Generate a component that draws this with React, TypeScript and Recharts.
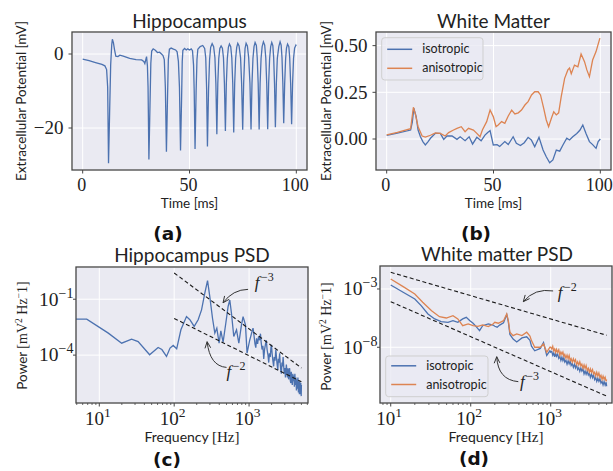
import React from 'react';
import { LineChart, Line, XAxis, YAxis, CartesianGrid } from 'recharts';

// ---------------- data ----------------
// (a) Hippocampus extracellular potential: [time ms, potential mV]
const hippoSamples: [number, number][] = [
  [0, -1.35], [3, -1.8], [6, -2.3], [9, -2.8], [10.4, -3.2], [11.2, -4.2], [11.7, -9], [12.1, -29.5],
  [12.6, -16], [13.1, -3], [13.6, 2.5], [13.9, 4.0], [14.4, 3.0], [14.9, 1.2], [15.5, -0.6], [16.5, -0.7],
  [17.4, -0.3], [19, -0.6], [22, -1.2], [25, -1.5], [27.6, -1.6], [28.6, -2.0], [29.1, -2.6], [29.6, -1.4],
  [29.9, -0.7], [30.3, -3.2], [30.6, -9], [31.0, -28.5], [31.5, -14], [31.9, -2.5], [32.3, 0.8], [33.0, 1.4],
  [34, 1.0], [35, 0.4], [36, 0.5], [36.9, 0.0], [37.6, -0.4], [38.2, -1.5], [38.7, -9], [39.2, -26.4],
  [39.7, -12], [40.1, -1.5], [40.6, 1.3], [41.4, 1.6], [42.5, 1.3], [43.5, 1.1], [44.2, 0.6], [44.8, -2],
  [45.3, -9], [45.8, -26.1], [46.3, -12], [46.6, -2], [46.9, 1.0], [47.7, 1.5], [48.5, 1.1], [49.2, 1.4],
  [50, 1.1], [50.8, 1.4], [51.4, 0.9], [51.9, -3], [52.2, -10], [52.6, -25.7], [53.1, -10], [53.5, -1.5],
  [53.9, 1.3], [55, 2.0], [56.2, 2.3], [57.1, 1.5], [57.6, -1], [58.0, -9], [58.4, -25.0], [58.9, -10],
  [59.4, -1.5], [59.9, 1.8], [60.6, 2.8], [61.3, 2.0], [61.9, -1], [62.35, -8], [62.8, -21.7], [63.25, -8],
  [63.7, -1.2], [64.2, 1.5], [64.8, 2.2], [65.4, 1.6], [65.9, -1], [66.35, -8], [66.8, -20.8], [67.25, -8],
  [67.7, -1.2], [68.2, 1.8], [68.7, 2.7], [69.3, 2.0], [69.8, -1], [70.25, -8], [70.7, -21.2], [71.15, -8],
  [71.6, -1.2], [72.1, 1.8], [72.6, 2.9], [73.2, 2.2], [73.9, -1], [74.4, -8], [74.9, -20.5], [75.35, -8],
  [75.8, -1], [76.0, 1.5], [76.5, 2.9], [77.1, 2.2], [77.7, -1], [78.3, -8], [78.8, -20.4], [79.25, -8],
  [79.7, -1.2], [80.2, 2], [80.7, 3.1], [81.3, 2.3], [81.7, -1], [82.15, -8], [82.6, -20.4], [83.05, -8],
  [83.5, -1.2], [84.0, 2], [84.6, 3.3], [85.2, 2.4], [85.7, -1], [86.15, -8], [86.6, -20.3], [87.05, -8],
  [87.5, -1.2], [88.0, 2], [88.5, 3.1], [89.0, 2.3], [89.4, -1], [89.8, -8], [90.2, -19.8], [90.65, -8],
  [91.1, -1.2], [91.8, 2], [92.4, 3.3], [92.9, 2.4], [93.3, -1], [93.7, -8], [94.1, -18.7], [94.55, -8],
  [95.0, -1.2], [95.4, 1.6], [95.9, 2.7], [96.5, 2.0], [96.9, -1], [97.35, -8], [97.8, -19.0], [98.25, -8],
  [98.7, -1.2], [99.2, 1.6], [99.8, 2.4], [100, 2.2],
];

// (b) White matter potentials: [time ms, potential mV]
const wmSeriesNames = ['isotropic', 'anisotropic'];
const wmIsoSamples: [number, number][] = [
  [0, 0.02], [5, 0.032], [11.2, 0.048], [12.0, 0.09], [12.7, 0.165], [13.8, 0.12], [14.7, 0.048], [15.8, 0.012],
  [17, -0.015], [18.1, -0.032], [19.3, -0.015], [20.5, 0.004], [22.8, 0.03], [25.1, 0.03], [26.7, -0.002],
  [28.2, 0.016], [30.6, 0.016], [32.9, -0.002], [34.4, 0.012], [36.7, -0.009], [38.6, 0.012], [40.2, -0.027],
  [42.2, 0.009], [44.2, -0.01], [46, 0.021], [47.3, 0.035], [48.4, 0.045], [49.9, -0.032], [51.7, -0.03],
  [52.9, -0.04], [55.3, -0.014], [56.9, -0.03], [59.2, 0.012], [60.7, -0.023], [62.6, -0.035], [64.4, -0.02],
  [66.2, 0.009], [67.7, -0.005], [69.3, -0.041], [71.3, 0.009], [73.2, -0.059], [74.7, -0.095], [76.3, -0.127],
  [77.8, -0.112], [79.4, -0.059], [81, -0.065], [82.5, -0.032], [84.3, 0.004], [85.6, -0.005], [87.1, 0.012],
  [89, 0.03], [90.5, 0.048], [91.8, 0.075], [93.3, 0.03], [94.9, -0.014], [96.4, -0.03], [98, -0.05],
  [99, -0.014], [100, 0.0],
];
const wmAnisoSamples: [number, number][] = [
  [0, 0.022], [5, 0.035], [11.2, 0.055], [12.5, 0.17], [13.5, 0.129], [14.7, 0.066], [16.6, 0.016], [18.1, 0.01],
  [20.5, 0.02], [22.8, 0.032], [25.1, 0.03], [27.4, 0.016], [29, 0.034], [31.3, 0.048], [32.9, 0.057],
  [34.9, 0.066], [36.7, 0.039], [38.3, 0.057], [40.6, 0.048], [42.2, 0.03], [43.7, 0.012], [44.8, 0.048],
  [46.8, 0.093], [48.4, 0.155], [49.9, 0.12], [51.2, 0.066], [52.2, 0.075], [53.8, 0.093], [55.3, 0.084],
  [56.9, 0.123], [58.5, 0.155], [60, 0.134], [61.6, 0.14], [63.1, 0.155], [64.7, 0.182], [66.2, 0.2],
  [67.8, 0.236], [69.3, 0.253], [70.9, 0.253], [72, 0.236], [73.5, 0.164], [74.7, 0.102], [75.8, 0.066],
  [77.1, 0.111], [78.2, 0.146], [79.4, 0.129], [80.5, 0.14], [81.7, 0.227], [83.3, 0.325], [84.8, 0.37],
  [85.6, 0.38], [86.4, 0.35], [87.9, 0.396], [89.5, 0.387], [91, 0.455], [92.6, 0.414], [93.7, 0.37],
  [94.9, 0.334], [96.4, 0.423], [98, 0.468], [99.8, 0.54],
];

// (c) Hippocampus PSD: [frequency Hz, log10 power]
const hippoPsd: [number, number][] = [
  [4.9, -2.07], [6.8, -2.07], [13.2, -2.82], [19.9, -3.36], [27, -3.14], [33, -3.27], [47, -3.98], [61, -3.59],
  [68.5, -3.7], [79, -4.07], [88, -3.62], [97, -3.48], [108, -3.66], [123, -2.64], [146, -1.93], [162, -2.1],
  [185, -2.46], [209, -2.1], [232, -1.57], [256, -0.68], [279, 0.0], [299, -0.86], [325, -2.02], [349, -2.82],
  [371, -2.55], [398, -3.36], [420, -2.7], [450, -3.3], [489, -2.29], [525, -1.39], [553, -1.04], [582, -1.75],
  [625, -3.0], [680, -2.64], [730, -3.36], [792, -2.38], [832, -1.93], [895, -2.38], [940, -3.89], [1020, -3.2],
  [1060, -2.95], [1100, -2.7], [1130, -2.55], [1160, -2.9], [1200, -3.4], [1230, -3.6], [1260, -3.1],
  [1300, -3.4], [1340, -3.0], [1380, -3.2], [1420, -2.85], [1450, -3.3], [1490, -3.7], [1530, -3.5],
  [1570, -4.2], [1610, -3.7], [1660, -3.4], [1700, -3.2], [1740, -3.7], [1790, -4.0], [1830, -4.4],
  [1870, -3.9], [1920, -4.1], [1960, -3.6], [1990, -3.45], [2030, -3.9], [2080, -4.3], [2130, -4.6],
  [2170, -4.1], [2220, -4.3], [2280, -3.7], [2320, -4.1], [2370, -4.5], [2420, -4.8], [2460, -4.2],
  [2510, -4.4], [2560, -3.9], [2600, -4.4], [2650, -4.8], [2700, -5.0], [2750, -4.4], [2800, -4.6],
  [2850, -4.1], [2900, -4.6], [2950, -5.0], [3000, -4.7], [3060, -5.2], [3110, -4.8], [3150, -4.5],
  [3200, -4.9], [3260, -5.2], [3310, -4.7], [3370, -5.3], [3420, -4.9], [3480, -4.7], [3540, -5.3],
  [3600, -5.5], [3660, -4.9], [3720, -5.4], [3780, -5.6], [3840, -5.0], [3900, -5.4], [3960, -5.1],
  [4030, -5.7], [4090, -5.0], [4150, -5.6], [4220, -5.2], [4290, -5.9], [4350, -5.3], [4420, -5.8],
  [4490, -5.2], [4560, -6.0], [4630, -5.4], [4700, -6.1], [4770, -5.4], [4840, -6.1], [4910, -5.5],
  [4970, -6.2], [5000, -5.6],
];

// (d) White matter PSD: [frequency Hz, log10 power]
const wmIsoPsd: [number, number][] = [
  [10, -2.66], [14.3, -3.28], [20, -3.86], [24, -4.43], [29.2, -5.14], [35.5, -5.57], [42.7, -5.8], [52, -5.86],
  [60, -5.72], [69, -5.86], [79.4, -5.57], [88, -5.43], [97.7, -5.72], [107, -5.94], [117, -6.23], [129, -6.58],
  [141, -6.15], [166, -6.0], [190, -6.09], [200, -6.2], [214, -6.28], [230, -6.1], [257, -5.9], [282, -5.2],
  [295, -5.8], [309, -6.9], [339, -7.3], [376, -7.55], [437, -7.2], [501, -7.1], [550, -7.4], [575, -7.9],
  [631, -8.3], [741, -8.1], [813, -7.6], [891, -8.7], [977, -8.3], [1000, -8.42], [1030, -8.35], [1060, -8.68],
  [1090, -8.49], [1120, -8.82], [1150, -8.51], [1180, -8.77], [1220, -8.59], [1260, -8.94], [1300, -8.78],
  [1340, -9.13], [1380, -8.84], [1420, -9.14], [1460, -8.9], [1500, -9.27], [1550, -9.12], [1600, -9.46],
  [1650, -9.17], [1700, -9.42], [1750, -9.19], [1800, -9.56], [1860, -9.4], [1920, -9.73], [1980, -9.46],
  [2040, -9.76], [2100, -9.51], [2170, -9.92], [2240, -9.76], [2310, -10.07], [2380, -9.79], [2450, -10.04],
  [2530, -9.86], [2610, -10.29], [2690, -10.04], [2770, -10.31], [2860, -10.05], [2950, -10.38], [3040, -10.23],
  [3130, -10.58], [3230, -10.3], [3330, -10.61], [3430, -10.36], [3540, -10.77], [3650, -10.59], [3760, -10.92],
  [3880, -10.66], [4000, -10.93], [4120, -10.7], [4250, -11.07], [4380, -10.93], [4510, -11.24], [4650, -10.94],
  [4790, -11.25], [4930, -11.0], [5000, -11.34],
];
const wmAnisoPsd: [number, number][] = [
  [10, -2.14], [14.3, -2.8], [20, -3.43], [25.1, -4.14], [32.4, -4.86], [40.7, -5.38], [49.5, -5.49], [60, -5.29],
  [69, -5.57], [79.4, -6.15], [93, -6.0], [107, -6.15], [123, -6.2], [141, -6.09], [166, -6.23], [190, -6.0],
  [200, -5.86], [221, -5.94], [257, -5.72], [282, -5.14], [295, -5.72], [309, -6.71], [339, -7.0], [376, -6.86],
  [437, -7.0], [501, -6.71], [550, -7.03], [575, -7.43], [631, -8.0], [741, -8.0], [813, -7.72], [891, -8.43],
  [977, -8.0], [1000, -8.0], [1030, -8.15], [1060, -7.92], [1090, -8.3], [1120, -8.15], [1150, -8.44],
  [1180, -8.17], [1220, -8.43], [1260, -8.22], [1300, -8.68], [1340, -8.41], [1380, -8.61], [1420, -8.41],
  [1460, -8.78], [1500, -8.62], [1550, -8.94], [1600, -8.67], [1650, -8.97], [1700, -8.7], [1750, -9.12],
  [1800, -8.97], [1860, -9.28], [1920, -8.99], [1980, -9.25], [2040, -9.07], [2100, -9.49], [2170, -9.25],
  [2240, -9.52], [2310, -9.25], [2380, -9.59], [2450, -9.44], [2530, -9.79], [2610, -9.51], [2690, -9.82],
  [2770, -9.57], [2860, -9.98], [2950, -9.8], [3040, -10.13], [3130, -9.86], [3230, -10.14], [3330, -9.91],
  [3430, -10.28], [3540, -10.14], [3650, -10.45], [3760, -10.15], [3880, -10.46], [4000, -10.21], [4120, -10.58],
  [4250, -10.41], [4380, -10.75], [4510, -10.48], [4650, -10.75], [4790, -10.56], [4930, -10.92], [5000, -10.75],
];

// power-law guide lines: endpoints [frequency Hz], log10 power
const hippoRefFreq = [100, 5000];
const hippoRefF3 = [0.41, -4.69];
const hippoRefF2 = [-2.03, -5.43];
const wmRefFreq = [10, 5000];
const wmRefF2 = [-1.57, -6.97];
const wmRefF3 = [-4.09, -12.19];

// ticks
const timeTicks = [0, 50, 100];
const hippoPotTicks = [-20, 0];
const wmPotTicks = [0, 0.25, 0.5];
const freqMajorTicks = [10, 100, 1000];
const hippoFreqTicks = [5, 6, 7, 8, 9, 10, 20, 30, 40, 50, 60, 70, 80, 90, 100, 200, 300, 400, 500, 600, 700, 800, 900, 1000, 2000, 3000, 4000, 5000, 6000];
const wmFreqTicks = [8, 9, 10, 20, 30, 40, 50, 60, 70, 80, 90, 100, 200, 300, 400, 500, 600, 700, 800, 900, 1000, 2000, 3000, 4000, 5000];
const hippoPsdExpTicks = [-4, -1];
const wmPsdExpTicks = [-8, -3];

// annotations: [log10 f, log10 P]
const hippoF3Label = [3.076, -0.4];
const hippoF3Arrow = [[2.987, -0.47], [2.783, -0.48], [2.653, -1.19]];
const hippoF2Label = [2.699, -5.16];
const hippoF2Arrow = [[2.699, -4.66], [2.476, -4.59], [2.44, -3.28]];
const wmF2Label = [3.0875, -3.8];
const wmF2Arrow = [[3.03, -3.17], [2.8, -2.91], [2.6575, -4.09]];
const wmF3Label = [2.616, -11.38];
const wmF3Arrow = [[2.595, -10.95], [2.34, -10.8], [2.325, -8.81]];

// ---------------- styling ----------------
const BLUE = '#4C72B0';
const ORANGE = '#DD8452';
const BG = '#EAEAF2';
const SPINE = '#454545';
const TXT = '#222222';
const SERIF = '"Liberation Serif", "DejaVu Serif", serif';
const SANS = 'Lato, "Open Sans", "DejaVu Sans", sans-serif';
const BOLD = '"DejaVu Sans", sans-serif';

type Rect = { x0: number; x1: number; y0: number; y1: number };
type Box = { left: number; top: number; width: number; height: number };
const YW = 50;
const XH = 30;

function marginFor(box: Box, plot: Rect) {
  return {
    top: plot.y0 - box.top,
    left: plot.x0 - box.left - YW,
    right: box.left + box.width - plot.x1,
    bottom: box.top + box.height - plot.y1 - XH,
  };
}

function makeMap(plot: Rect, xd: number[], yd: number[], xLog: boolean, yLog: boolean) {
  const tx = (v: number) => (xLog ? Math.log10(v) : v);
  const ty = (v: number) => (yLog ? Math.log10(v) : v);
  return (x: number, y: number): [number, number] => [
    plot.x0 + ((tx(x) - tx(xd[0])) / (tx(xd[1]) - tx(xd[0]))) * (plot.x1 - plot.x0),
    plot.y1 - ((ty(y) - ty(yd[0])) / (ty(yd[1]) - ty(yd[0]))) * (plot.y1 - plot.y0),
  ];
}

const fmtMinus = (s: string) => s.replace('-', '\u2212');

const LinXTick = (p: any) => (
  <g>
    <line x1={p.x} y1={p.y} x2={p.x} y2={p.y + 3.5} stroke={SPINE} strokeWidth={1} />
    <text x={p.x - 1} y={p.y + 20.5} textAnchor="middle" fontFamily={SERIF} fontSize={18} fill={TXT}>
      {String(p.payload.value)}
    </text>
  </g>
);

const LinYTick = (p: any) => (
  <g>
    <line x1={p.x - 3.5} y1={p.y} x2={p.x} y2={p.y} stroke={SPINE} strokeWidth={1} />
    <text x={p.x - 8.5} y={p.y + 6.2} textAnchor="end" fontFamily={SERIF} fontSize={19} fill={TXT}>
      {p.fmt(p.payload.value)}
    </text>
  </g>
);

const LogXTick = (p: any) => {
  const v = p.payload.value;
  const major = freqMajorTicks.indexOf(v) >= 0;
  if (!major) return <line x1={p.x} y1={p.y} x2={p.x} y2={p.y + 2} stroke={SPINE} strokeWidth={0.8} />;
  const e = Math.round(Math.log10(v));
  return (
    <g>
      <line x1={p.x} y1={p.y} x2={p.x} y2={p.y + 3.5} stroke={SPINE} strokeWidth={1} />
      <text x={p.x - 1.5} y={p.y + 22} textAnchor="middle" fontFamily={SERIF} fontSize={19} fill={TXT}>
        <tspan>10</tspan>
        <tspan dy={-8} fontSize={13.5}>{fmtMinus(String(e))}</tspan>
      </text>
    </g>
  );
};

const LogYTick = (p: any) => {
  const e = Math.round(Math.log10(p.payload.value));
  return (
    <g>
      <line x1={p.x - 3} y1={p.y} x2={p.x} y2={p.y} stroke={SPINE} strokeWidth={1} />
      <text x={p.x - 2.5} y={p.y + 6.3} textAnchor="end" fontFamily={SERIF} fontSize={19.5} fill={TXT}>
        <tspan>10</tspan>
        <tspan dy={-8} fontSize={14}>{fmtMinus(String(e))}</tspan>
      </text>
    </g>
  );
};

// ---------------- layout ----------------
const boxA: Box = { left: 0, top: 0, width: 320, height: 245 };
const plotA: Rect = { x0: 72, x1: 307, y0: 32, y1: 170 };
const xdA = [-5, 105];
const ydA = [-31.35, 5.95];

const boxB: Box = { left: 310, top: 0, width: 303, height: 245 };
const plotB: Rect = { x0: 376, x1: 611, y0: 32, y1: 170 };
const xdB = [-5, 105];
const ydB = [-0.166, 0.573];

const boxC: Box = { left: 0, top: 245, width: 320, height: 226 };
const plotC: Rect = { x0: 76, x1: 308, y0: 267, y1: 403 };
const xdC = [Math.pow(10, 0.689), Math.pow(10, 3.787)];
const ydC = [Math.pow(10, -6.57), Math.pow(10, 0.73)];

const boxD: Box = { left: 310, top: 245, width: 303, height: 226 };
const plotD: Rect = { x0: 380, x1: 612, y0: 266, y1: 403 };
const xdD = [Math.pow(10, 0.866), Math.pow(10, 3.766)];
const ydD = [Math.pow(10, -12.78), Math.pow(10, -1.03)];

const toXY = (arr: [number, number][]) => arr.map(([x, y]) => ({ x, y }));
const toXPow = (arr: [number, number][]) => arr.map(([x, y]) => ({ x, y: Math.pow(10, y) }));
const refLine = (fs: number[], es: number[]) => fs.map((f, i) => ({ x: f, y: Math.pow(10, es[i]) }));

const lineProps = { dataKey: 'y', dot: false, isAnimationActive: false, strokeWidth: 1.3, type: 'linear' as const };
const dashProps = { dataKey: 'y', dot: false, isAnimationActive: false, strokeWidth: 1.1, stroke: '#1a1a1a', strokeDasharray: '4 2.6', type: 'linear' as const };

function Arrow({ pts, map }: { pts: number[][]; map: (x: number, y: number) => [number, number] }) {
  const [s, c, e] = pts.map(([lf, lp]) => map(Math.pow(10, lf), Math.pow(10, lp)));
  const dx = e[0] - c[0];
  const dy = e[1] - c[1];
  const L = Math.hypot(dx, dy) || 1;
  const ux = dx / L;
  const uy = dy / L;
  const hl = 7;
  const ang = 0.42;
  const h1 = [e[0] - hl * (ux * Math.cos(ang) - uy * Math.sin(ang)), e[1] - hl * (uy * Math.cos(ang) + ux * Math.sin(ang))];
  const h2 = [e[0] - hl * (ux * Math.cos(-ang) - uy * Math.sin(-ang)), e[1] - hl * (uy * Math.cos(-ang) + ux * Math.sin(-ang))];
  return (
    <g fill="none" stroke="#333" strokeWidth={1}>
      <path d={`M${s[0]},${s[1]} Q${c[0]},${c[1]} ${e[0]},${e[1]}`} />
      <path d={`M${h1[0]},${h1[1]} L${e[0]},${e[1]} L${h2[0]},${h2[1]}`} />
    </g>
  );
}

function PowerLabel({ pos, map, exp }: { pos: number[]; map: (x: number, y: number) => [number, number]; exp: string }) {
  const [x, y] = map(Math.pow(10, pos[0]), Math.pow(10, pos[1]));
  return (
    <text x={x} y={y} fontFamily={SERIF} fontSize={17} fill={TXT}>
      <tspan fontStyle="italic">f</tspan>
      <tspan dx={1.5} dy={-7} fontSize={12}>{exp}</tspan>
    </text>
  );
}

function Legend({ x, y, w, h, rowY }: { x: number; y: number; w: number; h: number; rowY: number[] }) {
  const colors = [BLUE, ORANGE];
  return (
    <g>
      <rect x={x} y={y} width={w} height={h} rx={3} fill="rgba(234,234,242,0.8)" stroke="#cfcfcf" strokeWidth={1} />
      {wmSeriesNames.map((n, i) => (
        <g key={n}>
          <line x1={x + 5.5} x2={x + 30.5} y1={rowY[i]} y2={rowY[i]} stroke={colors[i]} strokeWidth={1.5} />
          <text x={x + 40.5} y={rowY[i] + 4} fontFamily={SANS} fontSize={12.5} fill={TXT}>{n}</text>
        </g>
      ))}
    </g>
  );
}

function PowerAxisLabel({ x, y }: { x: number; y: number }) {
  return (
    <text x={x} y={y} transform={`rotate(-90 ${x} ${y})`} textAnchor="middle" fontSize={13.5} fill={TXT}>
      <tspan fontFamily={SANS}>Power </tspan>
      <tspan fontFamily={SERIF} fontSize={14}>[mV</tspan>
      <tspan fontFamily={SERIF} fontSize={9.5} dy={-5}>2</tspan>
      <tspan fontFamily={SERIF} fontSize={14} dy={5}> Hz</tspan>
      <tspan fontFamily={SERIF} fontSize={9.5} dy={-5}>{'\u2212'}</tspan>
      <tspan fontFamily={SERIF} fontSize={14} dy={5}>1]</tspan>
    </text>
  );
}

export default function App() {
  const mapC = makeMap(plotC, xdC, ydC, true, true);
  const mapD = makeMap(plotD, xdD, ydD, true, true);
  const abs = (b: Box): React.CSSProperties => ({ position: 'absolute', left: b.left, top: b.top });

  return (
    <div style={{ position: 'absolute', left: 0, top: 0, width: 613, height: 471, background: '#fff', overflow: 'hidden' }}>
      {/* (a) */}
      <div style={abs(boxA)}>
        <LineChart width={boxA.width} height={boxA.height} margin={marginFor(boxA, plotA)}>
          <CartesianGrid fill={BG} fillOpacity={1} stroke="#ffffff" strokeWidth={1} />
          <XAxis dataKey="x" type="number" domain={xdA} ticks={timeTicks} allowDataOverflow axisLine={false}
            tickLine={false} tickSize={0} tickMargin={0} height={XH} interval={0} tick={(p: any) => <LinXTick {...p} />} />
          <YAxis type="number" domain={ydA} ticks={hippoPotTicks} allowDataOverflow axisLine={false} tickLine={false}
            tickSize={0} tickMargin={0} width={YW} interval={0}
            tick={(p: any) => <LinYTick {...p} fmt={(v: number) => fmtMinus(String(v))} />} />
          <Line data={toXY(hippoSamples)} stroke={BLUE} {...lineProps} />
        </LineChart>
      </div>

      {/* (b) */}
      <div style={abs(boxB)}>
        <LineChart width={boxB.width} height={boxB.height} margin={marginFor(boxB, plotB)}>
          <CartesianGrid fill={BG} fillOpacity={1} stroke="#ffffff" strokeWidth={1} />
          <XAxis dataKey="x" type="number" domain={xdB} ticks={timeTicks} allowDataOverflow axisLine={false}
            tickLine={false} tickSize={0} tickMargin={0} height={XH} interval={0} tick={(p: any) => <LinXTick {...p} />} />
          <YAxis type="number" domain={ydB} ticks={wmPotTicks} allowDataOverflow axisLine={false} tickLine={false}
            tickSize={0} tickMargin={0} width={YW} interval={0}
            tick={(p: any) => <LinYTick {...p} fmt={(v: number) => v.toFixed(2)} />} />
          <Line data={toXY(wmIsoSamples)} stroke={BLUE} {...lineProps} name={wmSeriesNames[0]} />
          <Line data={toXY(wmAnisoSamples)} stroke={ORANGE} {...lineProps} name={wmSeriesNames[1]} />
        </LineChart>
      </div>

      {/* (c) */}
      <div style={abs(boxC)}>
        <LineChart width={boxC.width} height={boxC.height} margin={marginFor(boxC, plotC)}>
          <CartesianGrid fill={BG} fillOpacity={1} stroke="#ffffff" strokeWidth={1} verticalValues={freqMajorTicks} />
          <XAxis dataKey="x" type="number" scale="log" domain={xdC} ticks={hippoFreqTicks} allowDataOverflow axisLine={false}
            tickLine={false} tickSize={0} tickMargin={0} height={XH} interval={0} tick={(p: any) => <LogXTick {...p} />} />
          <YAxis type="number" scale="log" domain={ydC} ticks={hippoPsdExpTicks.map((e) => Math.pow(10, e))} allowDataOverflow
            axisLine={false} tickLine={false} tickSize={0} tickMargin={0} width={YW} interval={0}
            tick={(p: any) => <LogYTick {...p} />} />
          <Line data={toXPow(hippoPsd)} stroke={BLUE} {...lineProps} />
          <Line data={refLine(hippoRefFreq, hippoRefF3)} {...dashProps} />
          <Line data={refLine(hippoRefFreq, hippoRefF2)} {...dashProps} />
        </LineChart>
      </div>

      {/* (d) */}
      <div style={abs(boxD)}>
        <LineChart width={boxD.width} height={boxD.height} margin={marginFor(boxD, plotD)}>
          <CartesianGrid fill={BG} fillOpacity={1} stroke="#ffffff" strokeWidth={1} verticalValues={freqMajorTicks} />
          <XAxis dataKey="x" type="number" scale="log" domain={xdD} ticks={wmFreqTicks} allowDataOverflow axisLine={false}
            tickLine={false} tickSize={0} tickMargin={0} height={XH} interval={0} tick={(p: any) => <LogXTick {...p} />} />
          <YAxis type="number" scale="log" domain={ydD} ticks={wmPsdExpTicks.map((e) => Math.pow(10, e))} allowDataOverflow
            axisLine={false} tickLine={false} tickSize={0} tickMargin={0} width={YW} interval={0}
            tick={(p: any) => <LogYTick {...p} />} />
          <Line data={toXPow(wmIsoPsd)} stroke={BLUE} {...lineProps} />
          <Line data={toXPow(wmAnisoPsd)} stroke={ORANGE} {...lineProps} />
          <Line data={refLine(wmRefFreq, wmRefF2)} {...dashProps} />
          <Line data={refLine(wmRefFreq, wmRefF3)} {...dashProps} />
        </LineChart>
      </div>

      {/* overlay: frames, titles, labels, legends, annotations */}
      <svg width={613} height={471} style={{ position: 'absolute', left: 0, top: 0, pointerEvents: 'none' }}>
        {[plotA, plotB, plotC, plotD].map((p, i) => (
          <rect key={i} x={p.x0} y={p.y0} width={p.x1 - p.x0} height={p.y1 - p.y0} fill="none" stroke={SPINE} strokeWidth={1.3} />
        ))}

        <g fontFamily={SANS} fontSize={19} fill={TXT} textAnchor="middle">
          <text x={189.5} y={28}>Hippocampus</text>
          <text x={493.5} y={28}>White Matter</text>
          <text x={192} y={261.5}>Hippocampus PSD</text>
          <text x={497} y={260.5}>White matter PSD</text>
        </g>

        <g fontFamily={SANS} fontSize={13.5} fill={TXT} textAnchor="middle">
          <text x={189.5} y={208}>Time [ms]</text>
          <text x={493.5} y={208}>Time [ms]</text>
          <text x={192} y={441.5}>
            <tspan fontSize={14}>Frequency </tspan>
            <tspan fontFamily={SERIF} fontSize={15}>[Hz]</tspan>
          </text>
          <text x={496} y={441.5}>
            <tspan fontSize={14}>Frequency </tspan>
            <tspan fontFamily={SERIF} fontSize={15}>[Hz]</tspan>
          </text>
        </g>

        <g fontFamily={SANS} fontSize={13.5} fill={TXT} textAnchor="middle">
          <text x={26} y={101} transform="rotate(-90 26 101)">Extracellular Potential [mV]</text>
          <text x={330.5} y={101} transform="rotate(-90 330.5 101)">Extracellular Potential [mV]</text>
        </g>
        <PowerAxisLabel x={27} y={335.5} />
        <PowerAxisLabel x={331} y={336.5} />

        <g fontFamily={BOLD} fontWeight="bold" fontSize={18.5} fill="#111" textAnchor="middle">
          <text x={168} y={239.5}>(a)</text>
          <text x={476} y={239.5}>(b)</text>
          <text x={167} y={466}>(c)</text>
          <text x={474} y={465}>(d)</text>
        </g>

        <Legend x={381.7} y={37.7} w={101.3} h={42.3} rowY={[49.3, 68.3]} />
        <Legend x={385.7} y={356} w={102.3} h={40.7} rowY={[365.8, 384.5]} />

        <PowerLabel pos={hippoF3Label} map={mapC} exp={'\u22123'} />
        <Arrow pts={hippoF3Arrow} map={mapC} />
        <PowerLabel pos={hippoF2Label} map={mapC} exp={'\u22122'} />
        <Arrow pts={hippoF2Arrow} map={mapC} />
        <PowerLabel pos={wmF2Label} map={mapD} exp={'\u22122'} />
        <Arrow pts={wmF2Arrow} map={mapD} />
        <PowerLabel pos={wmF3Label} map={mapD} exp={'\u22123'} />
        <Arrow pts={wmF3Arrow} map={mapD} />
      </svg>
    </div>
  );
}
